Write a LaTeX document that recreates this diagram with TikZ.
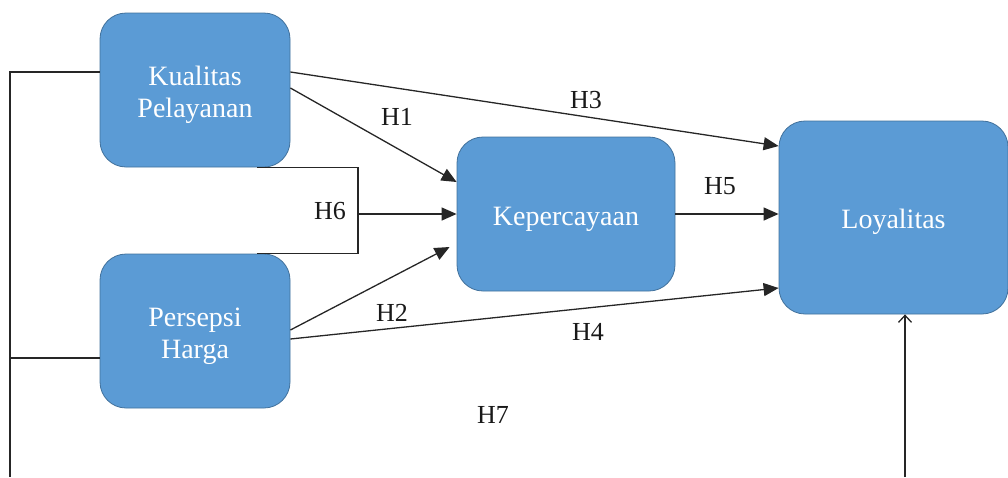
\documentclass[tikz,border=0pt]{standalone}
\usepackage{fontspec}
\setmainfont{Liberation Serif}
\usetikzlibrary{arrows.meta}
\definecolor{boxblue}{HTML}{5B9BD5}
\definecolor{boxedge}{HTML}{41719C}
\newcommand\btxt[1]{\raisebox{-11pt}[0pt][0pt]{\begin{tabular}{@{}c@{}}#1\end{tabular}}}
\begin{document}
\begin{tikzpicture}[x=1pt,y=-1pt,
  box/.style={draw=boxedge,line width=0.8pt,fill=boxblue,rounded corners=26pt,
    text=white,inner sep=0pt,
    font=\fontsize{28}{32}\selectfont},
  conn/.style={line width=1.3pt,draw=black!85},
  arr/.style={conn,-{Triangle[length=15pt,width=13pt]}},
  lab/.style={font=\fontsize{26}{30}\selectfont,text=black!90,inner sep=0pt}]
\useasboundingbox (0,0) rectangle (1008,477);
\node[box,minimum width=190pt,minimum height=154pt] (kp) at (195,90) {\btxt{Kualitas\\Pelayanan}};
\node[box,minimum width=190pt,minimum height=154pt] (ph) at (195,331) {\btxt{Persepsi\\Harga}};
\node[box,minimum width=218pt,minimum height=154pt] (kep) at (566,214) {\btxt{Kepercayaan}};
\node[box,minimum width=229pt,minimum height=193pt] (loy) at (893.5,217.5) {\btxt{Loyalitas}};
\coordinate (fbl) at (10,477);
\coordinate (l7) at (905,477);
% feedback line on the left
\draw[conn] ([yshift=18pt]kp.west) -| (fbl);
\draw[conn] ([yshift=-27pt]ph.west) -- ([yshift=-27pt]ph.west -| fbl);
% H7 arrow into Loyalitas
\draw[conn,-{Straight Barb[length=7pt,width=13pt]}] (l7) -- (loy.south -| l7);
% H1
\draw[arr] ([yshift=2pt]kp.east) -- ([yshift=32pt]kep.west);
% H3
\draw[arr] ([yshift=18pt]kp.east) -- ([yshift=71.5pt]loy.west);
% H2
\draw[arr] ([yshift=1pt]ph.east) -- ([xshift=-7pt,yshift=-33pt]kep.west);
% H4
\draw[arr] ([yshift=-8pt]ph.east) -- ([yshift=-70.5pt]loy.west);
% H5
\draw[arr] (kep.east) -- (kep.east -| loy.west);
% H6 bracket
\draw[conn] ([xshift=62pt]kp.south) -| ([xshift=163pt]ph.north) -- ([xshift=62pt]ph.north);
\draw[arr] ([xshift=163pt]ph.north |- kep.west) -- (kep.west);
% labels
\node[lab] (h1) at (397,117) {H1};
\node[lab] (h3) at (586,100) {H3};
\node[lab] (h5) at (720,186) {H5};
\node[lab] (h6) at (330,211) {H6};
\node[lab] (h2) at (392,313) {H2};
\node[lab] (h4) at (588,332) {H4};
\node[lab] (h7) at (493,415) {H7};
\end{tikzpicture}
\end{document}
